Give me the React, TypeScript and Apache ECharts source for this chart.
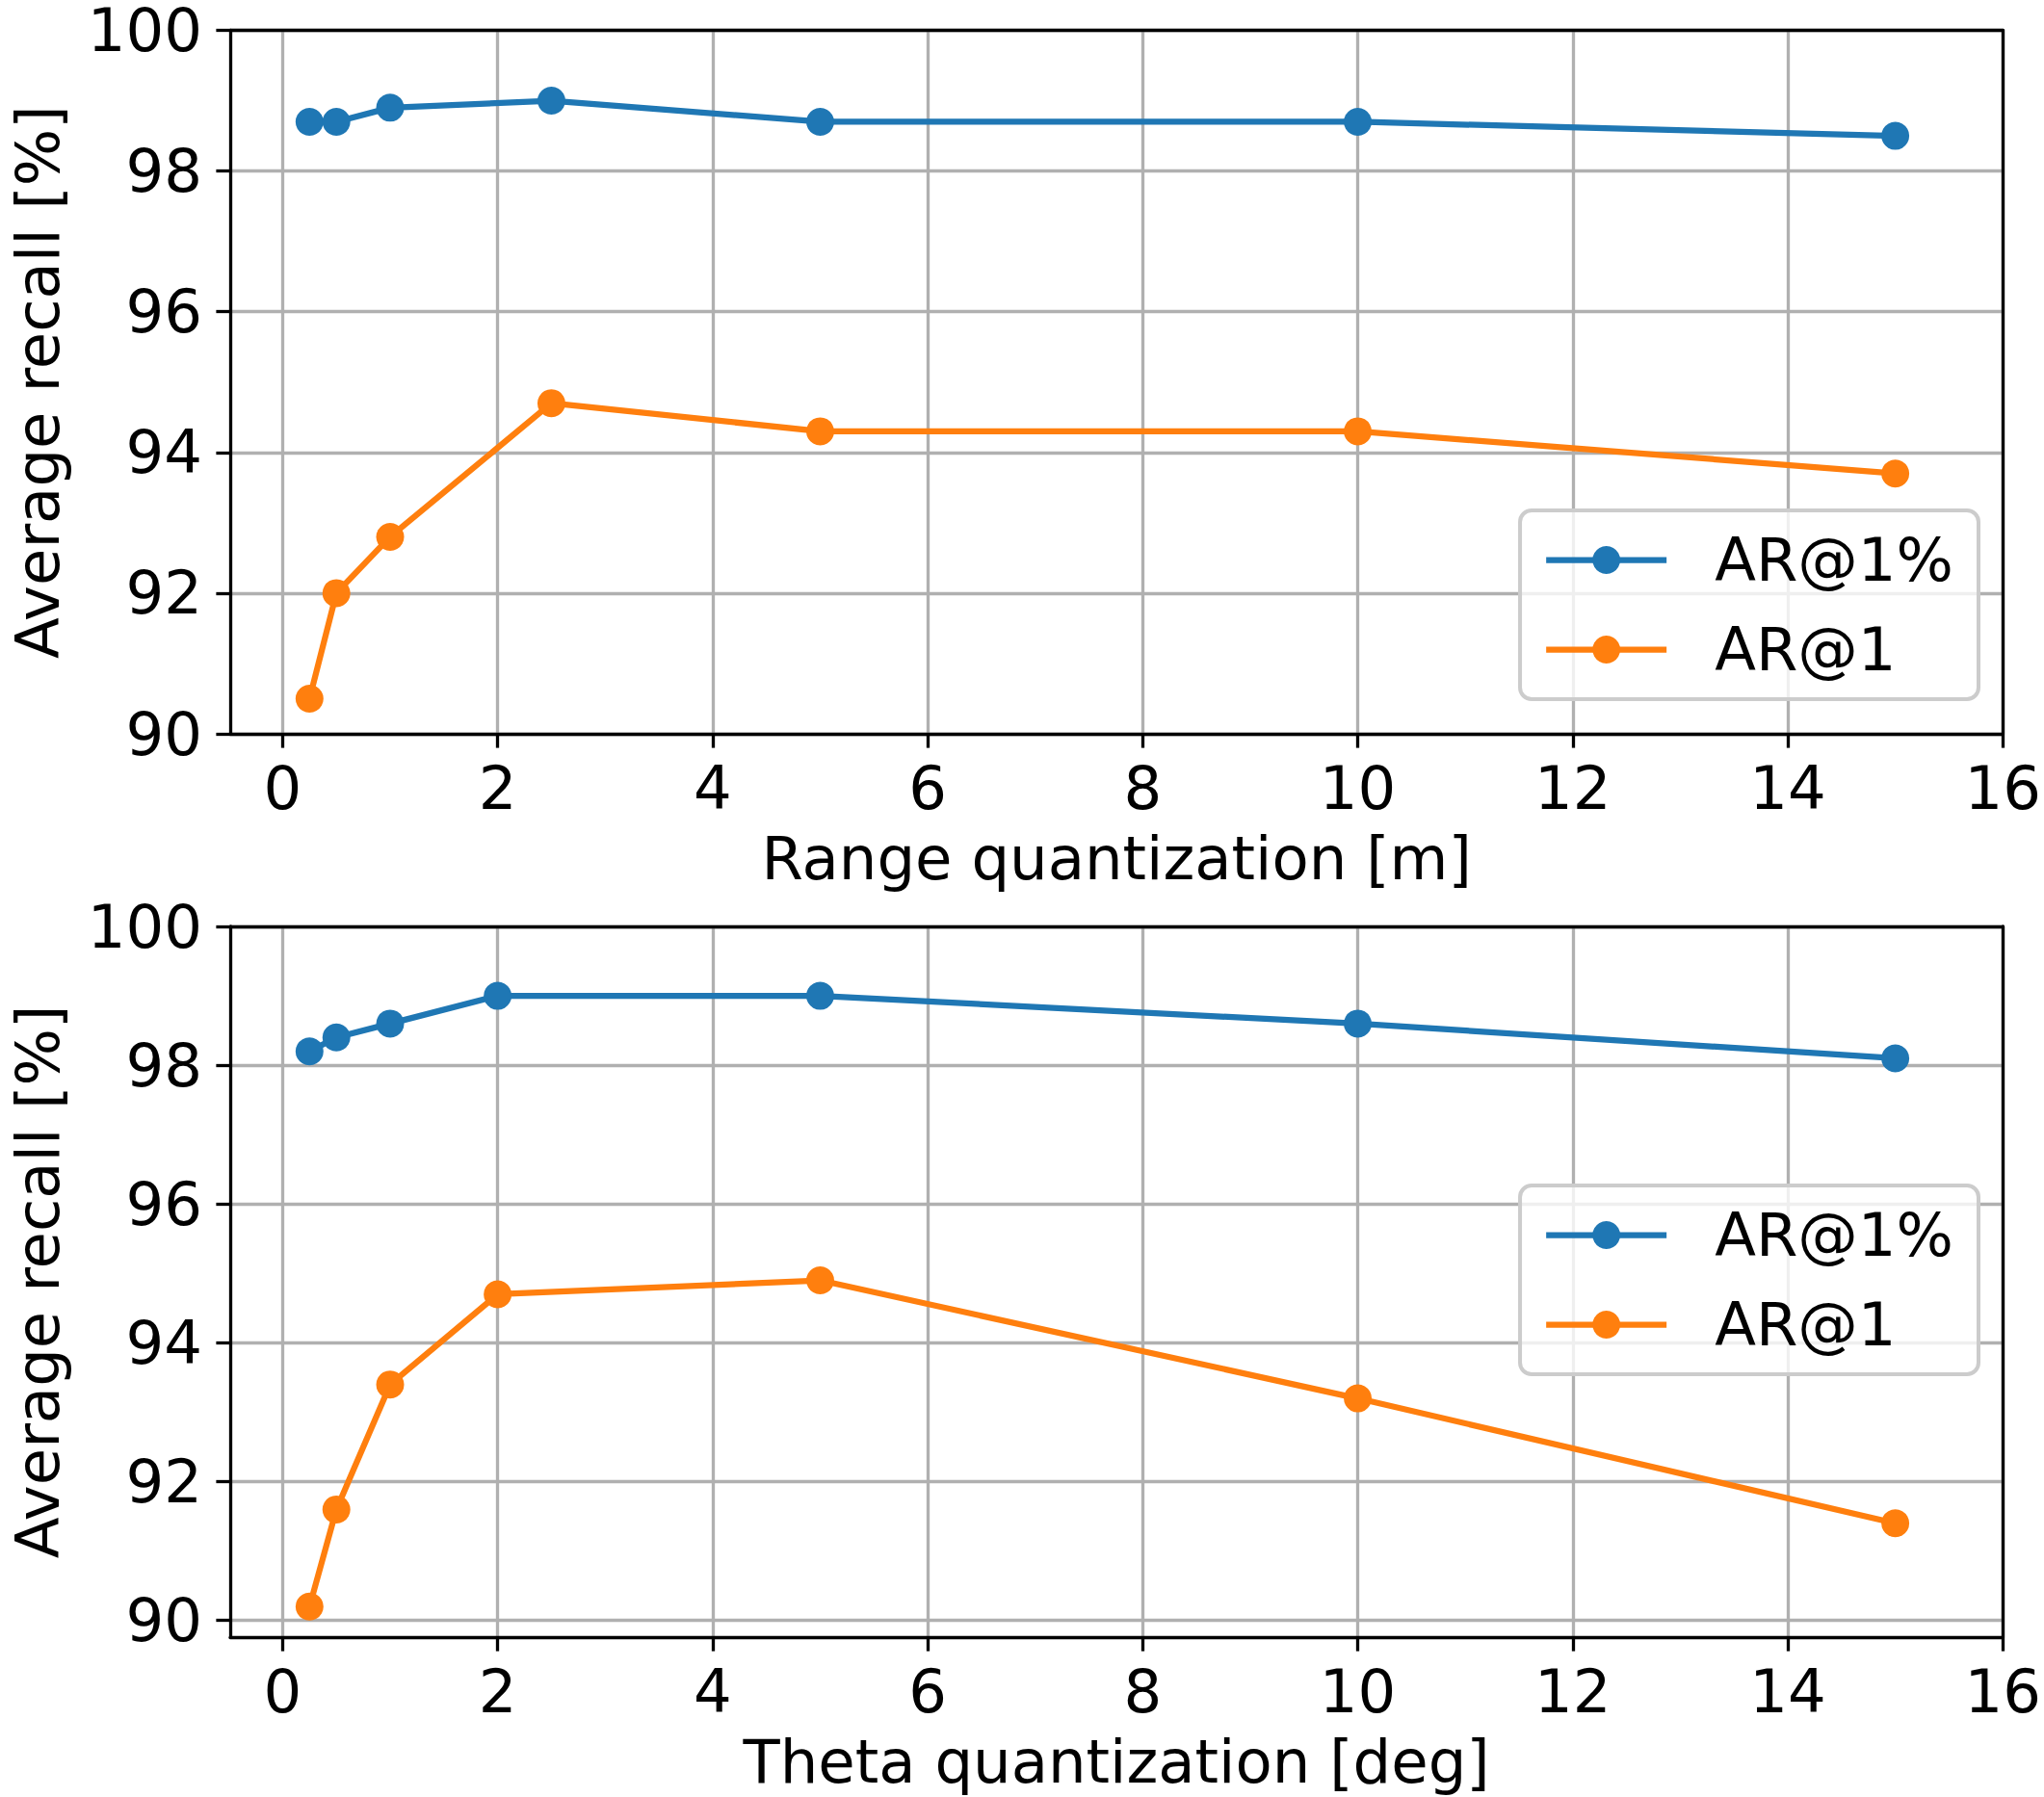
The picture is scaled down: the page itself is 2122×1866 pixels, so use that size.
import React, { useEffect, useRef } from "react";
import * as echarts from "echarts";

const rangeX = [0.25, 0.5, 1, 2.5, 5, 10, 15];
const rangeAR1pct = [98.7, 98.7, 98.9, 99.0, 98.7, 98.7, 98.5];
const rangeAR1 = [90.5, 92.0, 92.8, 94.7, 94.3, 94.3, 93.7];

const thetaX = [0.25, 0.5, 1, 2, 5, 10, 15];
const thetaAR1pct = [98.2, 98.4, 98.6, 99.0, 99.0, 98.6, 98.1];
const thetaAR1 = [90.2, 91.6, 93.4, 94.7, 94.9, 93.2, 91.4];

const xTicks = [0, 2, 4, 6, 8, 10, 12, 14, 16];
const yTicks = [90, 92, 94, 96, 98, 100];
const seriesNames = ["AR@1%", "AR@1"];
const xTitles = ["Range quantization [m]", "Theta quantization [deg]"];
const yTitle = "Average recall [%]";

const BLUE = "#1f77b4";
const ORANGE = "#ff7f0e";
const FONT = "DejaVu Sans";
const FS = 62.5;
const LW = 6.25;

const zip = (xs: number[], ys: number[]) => xs.map((x, i) => [x, ys[i]]);

export default function App() {
  const ref = useRef<HTMLDivElement>(null);
  useEffect(() => {
    if (!ref.current) return;
    const chart = echarts.init(ref.current, undefined, { renderer: "svg" });
    const grids = [
      { left: 226, top: 23, width: 1860, height: 739 },
      { left: 226, top: 962, width: 1860, height: 738 },
    ];
    const yMins = [90, 89.76];
    const mainX = [0, 1].map((g) => ({
      type: "value",
      gridIndex: g,
      position: "bottom",
      min: -0.4875,
      max: 16,
      z: 1,
      name: xTitles[g],
      nameLocation: "middle",
      nameGap: 98,
      nameTextStyle: { fontSize: FS, color: "#000", fontFamily: FONT },
      axisLine: { show: true, onZero: false, lineStyle: { color: "#000", width: 3.3 } },
      axisTick: { show: true, length: 14.6, customValues: xTicks, lineStyle: { color: "#000", width: 3.3 } },
      axisLabel: { customValues: xTicks, fontSize: FS, color: "#000", fontFamily: FONT, margin: 25 },
      splitLine: { show: true, lineStyle: { color: "#b0b0b0", width: 3.3 } },
    }));
    const mainY = [0, 1].map((g) => ({
      type: "value",
      gridIndex: g,
      position: "left",
      min: yMins[g],
      max: 100,
      z: 0,
      name: yTitle,
      nameLocation: "middle",
      nameGap: 168,
      nameTextStyle: { fontSize: FS, color: "#000", fontFamily: FONT },
      axisLine: { show: true, onZero: false, lineStyle: { color: "#000", width: 3.3 } },
      axisTick: { show: true, length: 14.6, customValues: yTicks, lineStyle: { color: "#000", width: 3.3 } },
      axisLabel: { customValues: yTicks, fontSize: FS, color: "#000", fontFamily: FONT, margin: 29 },
      splitLine: { show: true, lineStyle: { color: "#b0b0b0", width: 3.3 } },
    }));
    const spineX = [0, 1].map((g) => ({
      type: "value",
      gridIndex: g,
      position: "top",
      min: 0,
      max: 1,
      z: 3,
      axisLine: { show: true, onZero: false, lineStyle: { color: "#000", width: 3.3 } },
      axisTick: { show: false },
      axisLabel: { show: false },
      splitLine: { show: false },
    }));
    const spineY = [0, 1].map((g) => ({
      type: "value",
      gridIndex: g,
      position: "right",
      min: 0,
      max: 1,
      z: 3,
      axisLine: { show: true, onZero: false, lineStyle: { color: "#000", width: 3.3 } },
      axisTick: { show: false },
      axisLabel: { show: false },
      splitLine: { show: false },
    }));

    const mkSeries = (name: string, color: string, g: number, xs: number[], ys: number[]) => ({
      type: "line",
      name,
      xAxisIndex: g,
      yAxisIndex: g,
      data: zip(xs, ys),
      symbol: "circle",
      symbolSize: 29,
      showSymbol: true,
      color,
      itemStyle: { color },
      lineStyle: { color, width: LW },
      z: 2,
    });

    const legendCommon = {
      orient: "vertical",
      right: 68,
      itemWidth: 125,
      itemHeight: 36,
      itemGap: 30,
      padding: [20, 26, 20, 24],
      backgroundColor: "rgba(255,255,255,0.8)",
      borderColor: "#cccccc",
      borderWidth: 4,
      borderRadius: 12,
      data: seriesNames,
      lineStyle: { width: LW },
      textStyle: { fontSize: FS, color: "#000", fontFamily: FONT, padding: [0, 0, 0, 45] },
      selectedMode: false,
      z: 4,
    };

    chart.setOption({
      animation: false,
      backgroundColor: "#fff",
      grid: grids.map((g) => ({ ...g, containLabel: false })),
      xAxis: [...mainX, ...spineX],
      yAxis: [...mainY, ...spineY],
      legend: [
        { ...legendCommon, top: 530 },
        { ...legendCommon, top: 1231 },
      ],
      series: [
        mkSeries(seriesNames[0], BLUE, 0, rangeX, rangeAR1pct),
        mkSeries(seriesNames[1], ORANGE, 0, rangeX, rangeAR1),
        mkSeries(seriesNames[0], BLUE, 1, thetaX, thetaAR1pct),
        mkSeries(seriesNames[1], ORANGE, 1, thetaX, thetaAR1),
      ],
    });
    return () => chart.dispose();
  }, []);
  return (
    <div
      ref={ref}
      style={{ position: "absolute", left: 0, top: 0, width: 2122, height: 1866, background: "#fff" }}
    />
  );
}
